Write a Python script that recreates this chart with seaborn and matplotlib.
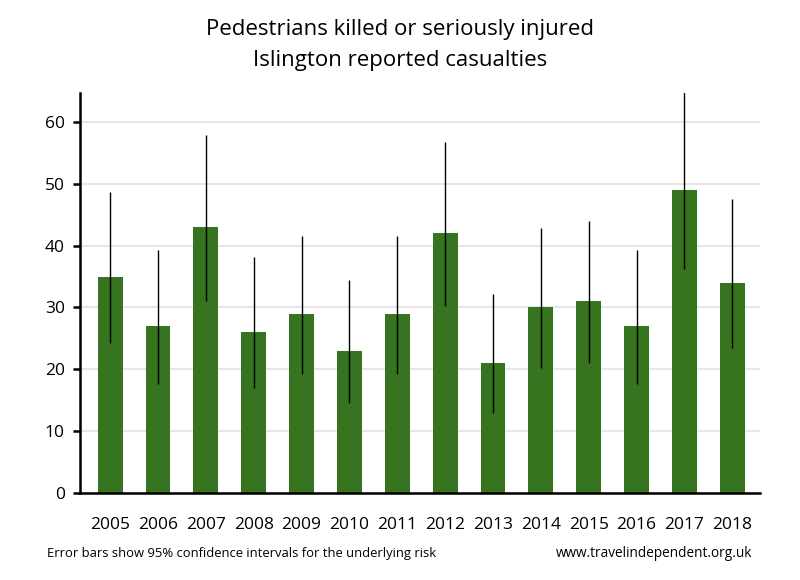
import pandas as pd
import numpy as np
import matplotlib
matplotlib.use("Agg")
import matplotlib.pyplot as plt
import seaborn as sns

# Data
years = ["2005", "2006", "2007", "2008", "2009", "2010", "2011",
         "2012", "2013", "2014", "2015", "2016", "2017", "2018"]
casualties = [35, 27, 43, 26, 29, 23, 29, 42, 21, 30, 31, 27, 49, 34]
ci_low = [24.2, 17.6, 31.0, 17.0, 19.3, 14.5, 19.3, 30.2, 12.9, 20.2, 21.0, 17.6, 36.2, 23.5]
ci_high = [48.6, 39.3, 57.9, 38.1, 41.5, 34.4, 41.5, 56.8, 32.1, 42.8, 44.0, 39.3, 65.5, 47.5]

data = pd.DataFrame({"year": years, "ksi": casualties,
                     "low": ci_low, "high": ci_high})

sns.set_style("white")
plt.rcParams["font.family"] = ["Open Sans", "DejaVu Sans"]
plt.rcParams["text.color"] = "black"
plt.rcParams["xtick.color"] = "black"
plt.rcParams["ytick.color"] = "black"

fig = plt.figure(figsize=(8, 5.8), dpi=100)
ax = fig.add_axes([0.1, 0.15, 0.85, 0.69])

sns.barplot(data=data, x="year", y="ksi", color="#367420", width=0.52,
            saturation=1, linewidth=0, ax=ax, zorder=2)
ax.vlines(np.arange(len(data)), data["low"], data["high"],
          color="black", linewidth=1, zorder=3)

ax.set_ylim(0, 64.7)
ax.set_xlim(-0.63, len(data) - 0.42)
ax.set_yticks(range(0, 61, 10))
ax.yaxis.grid(True, color="#e6e6e6", linewidth=1.5, zorder=0)
ax.set_axisbelow(True)
ax.set_xlabel("")
ax.set_ylabel("")

for side in ["top", "right"]:
    ax.spines[side].set_visible(False)
ax.spines["left"].set_linewidth(1.8)
ax.spines["bottom"].set_linewidth(1.8)
ax.spines["left"].set_color("black")
ax.spines["bottom"].set_color("black")

ax.tick_params(axis="y", which="both", left=True, length=5, width=1.8,
               labelsize=12.5, pad=6)
ax.tick_params(axis="x", bottom=False, labelsize=12.5, pad=14)

fig.text(0.5, 0.95, "Pedestrians killed or seriously injured",
         ha="center", va="center", fontsize=16)
fig.text(0.5, 0.895, "Islington reported casualties",
         ha="center", va="center", fontsize=16)
fig.text(0.059, 0.045, "Error bars show 95% confidence intervals for the underlying risk",
         ha="left", va="center", fontsize=9.4)
fig.text(0.94, 0.045, "www.travelindependent.org.uk",
         ha="right", va="center", fontsize=9.8)

fig.savefig("out.png", dpi=100)
